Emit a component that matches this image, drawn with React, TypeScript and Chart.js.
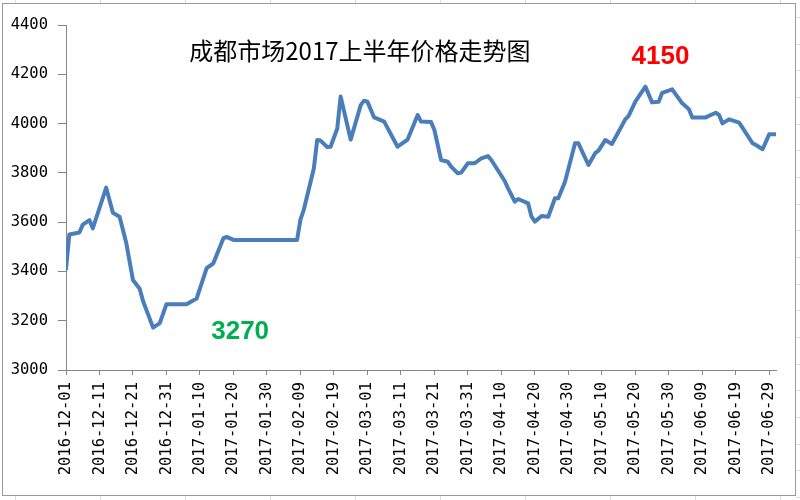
import React, { useEffect, useRef } from "react";
import { Chart, registerables } from "chart.js";

Chart.register(...registerables);

// Tick labels on the date axis (every 10 days from 2016-12-01)
const tickLabels = [
  "2016-12-01", "2016-12-11", "2016-12-21", "2016-12-31",
  "2017-01-10", "2017-01-20", "2017-01-30", "2017-02-09",
  "2017-02-19", "2017-03-01", "2017-03-11", "2017-03-21",
  "2017-03-31", "2017-04-10", "2017-04-20", "2017-04-30",
  "2017-05-10", "2017-05-20", "2017-05-30", "2017-06-09",
  "2017-06-19", "2017-06-29",
];

// Day offset from 2016-12-01 for each observed price point
const dayOffsets = [
  0, 1, 4, 5, 7, 8, 12, 14, 16, 18, 20, 22, 23, 26, 28, 30, 36, 39, 42, 44,
  47, 48, 50, 69, 70, 71, 74, 75, 76, 78, 79, 81, 82, 85, 88, 89, 90, 92, 95,
  99, 102, 104, 105, 106, 109, 110, 112, 114, 115, 117, 118, 120, 122, 124,
  126, 127, 131, 132, 134, 135, 138, 139, 140, 142, 144, 146, 147, 149, 152,
  153, 156, 158, 159, 161, 163, 165, 167, 168, 170, 173, 175, 177, 178, 181,
  184, 186, 187, 191, 194, 195, 196, 198, 201, 205, 206, 208, 210, 212,
];

// Price (元/吨) at each day offset
const prices = [
  3410, 3550, 3558, 3590, 3608, 3575, 3740, 3638, 3622, 3515, 3365, 3330,
  3280, 3172, 3190, 3267, 3267, 3290, 3413, 3433, 3535, 3540, 3528, 3528,
  3610, 3650, 3818, 3933, 3931, 3905, 3906, 3980, 4110, 3935, 4075, 4093,
  4089, 4025, 4008, 3906, 3935, 4001, 4035, 4008, 4006, 3974, 3852, 3845,
  3825, 3798, 3801, 3839, 3839, 3859, 3868, 3852, 3767, 3737, 3683, 3694,
  3676, 3622, 3602, 3625, 3622, 3697, 3697, 3764, 3920, 3920, 3832, 3880,
  3890, 3933, 3917, 3967, 4017, 4031, 4089, 4150, 4086, 4089, 4125, 4139,
  4082, 4058, 4025, 4025, 4044, 4035, 4001, 4017, 4004, 3920, 3913, 3896,
  3957, 3957,
];

const yTicks = [3000, 3200, 3400, 3600, 3800, 4000, 4200, 4400];

const titleText = "成都市场2017上半年价格走势图";
const annotations = [
  { text: "4150", day: 177.5, value: 4270, color: "#FF0000" },
  { text: "3270", day: 52, value: 3154, color: "#00B050" },
];

const AXIS_COLOR = "#868686";
const TICK_FONT = { family: "'DejaVu Sans Mono', monospace", size: 15.5 };

const framePlugin = {
  id: "frame",
  beforeDraw(chart: any) {
    const { ctx, width, height } = chart;
    ctx.save();
    ctx.fillStyle = "#ffffff";
    ctx.fillRect(0, 0, width, height);
    // faint spreadsheet cell lines outside the chart frame
    ctx.strokeStyle = "#D9DCE3";
    ctx.lineWidth = 1;
    for (let x = 15; x < width; x += 85) {
      ctx.beginPath();
      ctx.moveTo(x + 0.5, 0);
      ctx.lineTo(x + 0.5, 3);
      ctx.moveTo(x + 0.5, 496);
      ctx.lineTo(x + 0.5, height);
      ctx.stroke();
    }
    for (let y = 17; y < height; y += 26.67) {
      ctx.beginPath();
      ctx.moveTo(796, Math.round(y) + 0.5);
      ctx.lineTo(width, Math.round(y) + 0.5);
      ctx.stroke();
    }
    // chart frame
    ctx.strokeStyle = "#9A9A9A";
    ctx.strokeRect(2.5, 3.5, 793, 492);
    ctx.restore();
  },
  afterDatasetsDraw(chart: any) {
    const { ctx, chartArea } = chart;
    const xs = chart.scales.x;
    const ys = chart.scales.y;
    ctx.save();
    ctx.textAlign = "center";
    ctx.textBaseline = "middle";
    // title overlaid on plot
    ctx.fillStyle = "#000000";
    ctx.font = "24px 'Noto Sans CJK SC', sans-serif";
    const tx = chartArea.left + (chartArea.right - chartArea.left) * 0.414;
    ctx.fillText(titleText, tx, chartArea.top + 26);
    // value annotations
    ctx.font = "bold 26px 'Liberation Sans', Arial, sans-serif";
    for (const a of annotations) {
      ctx.fillStyle = a.color;
      ctx.fillText(a.text, xs.getPixelForValue(a.day), ys.getPixelForValue(a.value));
    }
    ctx.restore();
  },
};

export default function App() {
  const canvasRef = useRef<HTMLCanvasElement | null>(null);

  useEffect(() => {
    if (!canvasRef.current) return;
    const points = dayOffsets.map((d, i) => ({ x: d, y: prices[i] }));
    const chart = new Chart(canvasRef.current, {
      type: "line",
      data: {
        datasets: [
          {
            label: "价格",
            data: points,
            borderColor: "#4A7EBB",
            borderWidth: 4,
            pointRadius: 0,
            tension: 0,
            fill: false,
            borderJoinStyle: "round",
            borderCapStyle: "round",
          },
        ],
      },
      options: {
        animation: false,
        responsive: false,
        devicePixelRatio: 1,
        layout: { padding: { left: 0, right: 24, top: 25, bottom: 0 } },
        plugins: {
          legend: { display: false },
          tooltip: { enabled: false },
          title: { display: false },
        },
        scales: {
          x: {
            type: "linear",
            min: 0,
            max: 212,
            afterFit: (s: any) => {
              s.height = 130;
            },
            grid: {
              drawOnChartArea: false,
              drawTicks: true,
              tickLength: 5,
              color: AXIS_COLOR,
            },
            border: { display: true, color: AXIS_COLOR, width: 1 },
            ticks: {
              stepSize: 10,
              autoSkip: false,
              includeBounds: false,
              maxRotation: 90,
              minRotation: 90,
              padding: 7,
              color: "#000000",
              font: TICK_FONT,
              callback: (v: any) => {
                const i = Math.round(Number(v) / 10);
                return Number(v) % 10 === 0 ? tickLabels[i] ?? "" : "";
              },
            },
          },
          y: {
            type: "linear",
            min: yTicks[0],
            max: yTicks[yTicks.length - 1],
            afterFit: (s: any) => {
              s.width = 66;
            },
            afterBuildTicks: (s: any) => {
              s.ticks = yTicks.map((v) => ({ value: v }));
            },
            grid: {
              drawOnChartArea: false,
              drawTicks: true,
              tickLength: 8,
              color: AXIS_COLOR,
            },
            border: { display: true, color: AXIS_COLOR, width: 1 },
            ticks: {
              padding: 10,
              color: "#000000",
              font: TICK_FONT,
              callback: (v: any) => String(v),
            },
          },
        },
      },
      plugins: [framePlugin],
    });
    return () => chart.destroy();
  }, []);

  return (
    <div style={{ position: "fixed", left: 0, top: 0, width: 800, height: 500, background: "#fff" }}>
      <canvas ref={canvasRef} width={800} height={500} style={{ display: "block" }} />
    </div>
  );
}
